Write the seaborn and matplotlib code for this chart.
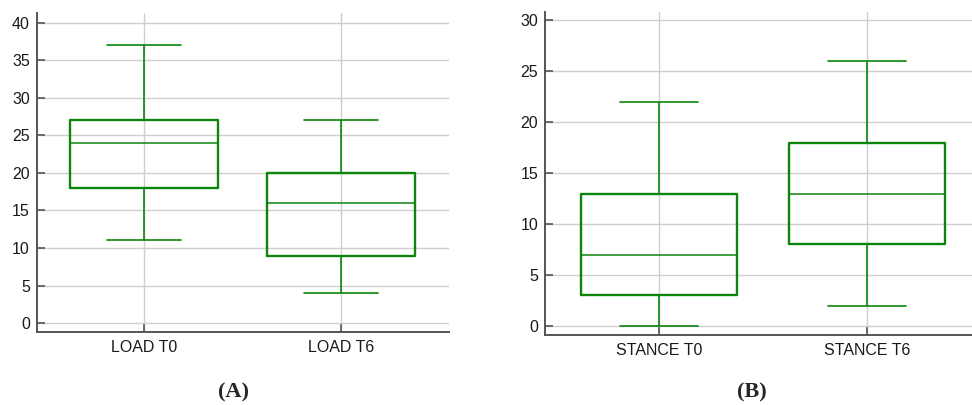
import pandas as pd
import matplotlib
matplotlib.use("Agg")
import matplotlib.pyplot as plt
import seaborn as sns

# Five-number summaries (min, q1, median, q3, max)
load_labels = ["LOAD T0", "LOAD T6"]
load_t0 = [11, 18, 24, 27, 37]
load_t6 = [4, 9, 16, 20, 27]

stance_labels = ["STANCE T0", "STANCE T6"]
stance_t0 = [0, 3, 7, 13, 22]
stance_t6 = [2, 8, 13, 18, 26]

load_ticks = list(range(0, 45, 5))
stance_ticks = list(range(0, 35, 5))

sns.set_style("white")
plt.rcParams["font.family"] = ["Liberation Sans", "DejaVu Sans"]

green = "#0b850b"


def long_df(labels, series):
    rows = []
    for lab, vals in zip(labels, series):
        for v in vals:
            rows.append({"group": lab, "value": v})
    return pd.DataFrame(rows)


def draw_box(ax, df, ticks, ylim, xlim):
    sns.boxplot(data=df, x="group", y="value", ax=ax, fill=False, color=green,
                width=0.75, whis=(0, 100),
                boxprops={"linewidth": 1.7},
                medianprops={"linewidth": 1.1, "color": green},
                whiskerprops={"linewidth": 1.2},
                capprops={"linewidth": 1.2},
                zorder=3)
    ax.set_yticks(ticks)
    ax.set_ylim(*ylim)
    ax.set_xlim(*xlim)
    ax.set_xlabel("")
    ax.set_ylabel("")
    ax.grid(True, color="#cfcfcf", linewidth=1.0, zorder=0)
    ax.set_axisbelow(True)
    for s in ["top", "right"]:
        ax.spines[s].set_visible(False)
    for s in ["left", "bottom"]:
        ax.spines[s].set_color("#555555")
        ax.spines[s].set_linewidth(1.4)
    ax.tick_params(axis="both", direction="in", length=6, width=1.2,
                   left=True, bottom=True,
                   colors="#555555", labelcolor="#1a1a1a", labelsize=11.5)
    ax.tick_params(axis="y", pad=5)
    ax.tick_params(axis="x", pad=6)


fig = plt.figure(figsize=(9.72, 4.05), dpi=100)
ax1 = fig.add_axes([0.038, 0.180, 0.424, 0.788])
ax2 = fig.add_axes([0.561, 0.173, 0.439, 0.797])

draw_box(ax1, long_df(load_labels, [load_t0, load_t6]), load_ticks,
         (-1.2, 41.3), (-0.543, 1.548))
draw_box(ax2, long_df(stance_labels, [stance_t0, stance_t6]), stance_ticks,
         (-0.88, 30.8), (-0.546, 1.503))

fig.text(0.24, 0.03, "(A)", ha="center", va="center", fontsize=16,
         fontweight="bold", family=["Liberation Serif", "DejaVu Serif"])
fig.text(0.774, 0.03, "(B)", ha="center", va="center", fontsize=16,
         fontweight="bold", family=["Liberation Serif", "DejaVu Serif"])

fig.savefig("out.png", dpi=100)
